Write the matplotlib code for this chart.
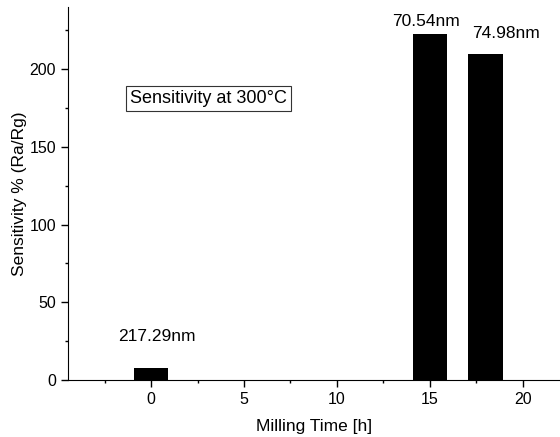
# Sensitivity vs milling time bar chart
import matplotlib
matplotlib.use("Agg")
import matplotlib.pyplot as plt
from matplotlib.ticker import MultipleLocator

plt.rcParams["font.family"] = ["Liberation Sans", "DejaVu Sans"]
plt.rcParams["font.size"] = 11

# Data
milling_time = [0, 15, 18]
sensitivity = [7.5, 222.5, 209.5]
size_labels = ["217.29nm", "70.54nm", "74.98nm"]
label_x = [0.3, 14.8, 19.1]
label_y = [28, 230.5, 223]

fig = plt.figure(figsize=(5.6, 4.37), dpi=100)
ax = fig.add_axes([68 / 560, 1 - 380 / 437, 1 - 68 / 560, 373 / 437])

ax.bar(milling_time, sensitivity, width=1.85, color="black")
for x, y, s in zip(label_x, label_y, size_labels):
    ax.text(x, y, s, ha="center", va="center", fontsize=12.5)

ax.text(3.1, 181, "Sensitivity at 300\u00b0C", ha="center", va="center", fontsize=13,
        bbox=dict(boxstyle="square,pad=0.22", facecolor="white", edgecolor="#333333", linewidth=0.8))

ax.set_xlim(-4.47, 22.0)
ax.set_ylim(0, 240)
ax.xaxis.set_major_locator(MultipleLocator(5))
ax.xaxis.set_minor_locator(MultipleLocator(2.5))
ax.yaxis.set_major_locator(MultipleLocator(50))
ax.yaxis.set_minor_locator(MultipleLocator(25))
ax.tick_params(which="major", direction="out", length=5, width=1, labelsize=11.5)
ax.tick_params(which="minor", direction="out", length=2.5, width=1)
ax.spines["top"].set_visible(False)
ax.spines["right"].set_visible(False)

ax.set_xlabel("Milling Time [h]", fontsize=12.5, labelpad=9)
ax.set_ylabel("Sensitivity % (Ra/Rg)", fontsize=12.5, labelpad=2)

fig.savefig("out.png", dpi=100)
